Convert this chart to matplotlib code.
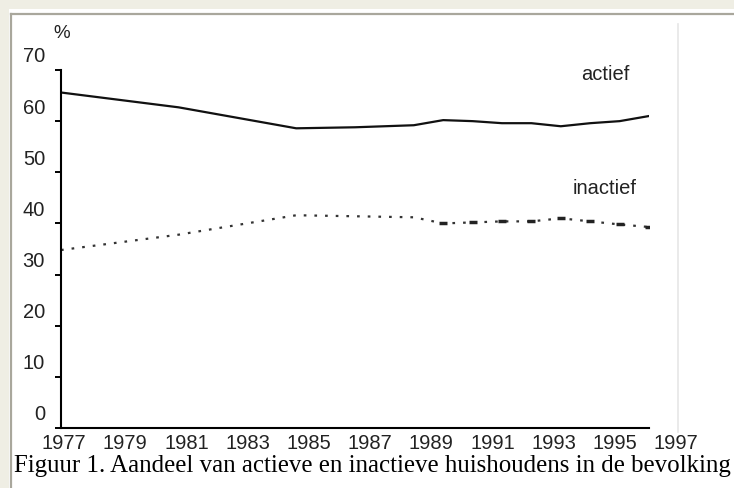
import matplotlib
matplotlib.use("Agg")
import matplotlib.pyplot as plt
from matplotlib.transforms import ScaledTranslation
from matplotlib.lines import Line2D
from matplotlib.patches import Rectangle

# data
years = [1977, 1981, 1985, 1987, 1989, 1990, 1991, 1992, 1993, 1994, 1995, 1996, 1997]
actief = [65.6, 62.7, 58.6, 58.8, 59.2, 60.2, 60.0, 59.6, 59.6, 59.0, 59.6, 60.0, 61.0]
inactief = [34.8, 37.8, 41.6, 41.4, 41.2, 40.0, 40.2, 40.4, 40.4, 41.0, 40.4, 39.8, 39.3]
marked_from = 5  # dash markers on the yearly points from 1990 on

xtick_years = list(range(1977, 1998, 2))
yticks = list(range(0, 80, 10))
caption = "Figuur 1. Aandeel van actieve en inactieve huishoudens in de bevolking"

W, H = 734, 488
fig = plt.figure(figsize=(W / 100, H / 100), dpi=100)
fig.patch.set_facecolor("white")

# window-like frame around the chart
fig.add_artist(Rectangle((0, 1 - 9 / H), 1, 9 / H, transform=fig.transFigure,
                         facecolor="#efeee4", edgecolor="none"))
fig.add_artist(Rectangle((0, 0), 9 / W, 1, transform=fig.transFigure,
                         facecolor="#efeee4", edgecolor="none"))
fig.add_artist(Line2D([11 / W, 1], [1 - 14 / H, 1 - 14 / H], transform=fig.transFigure,
                      color="#a9a79c", lw=1.6))
fig.add_artist(Line2D([11 / W, 11 / W], [0, 1 - 14 / H], transform=fig.transFigure,
                      color="#a9a79c", lw=1.6))
fig.add_artist(Line2D([678 / W, 678 / W], [1 - 24 / H, 1 - 432 / H], transform=fig.transFigure,
                      color="#e6e6e6", lw=1.2, zorder=0))

ax = fig.add_axes([61 / W, (H - 428) / H, 588 / W, 358 / H])
ax.set_facecolor("none")

ax.plot(years, actief, color="#111111", lw=1.6, solid_joinstyle="round")
ax.plot(years, inactief, color="#333333", lw=1.6, linestyle=(0, (1.2, 3.6)),
        marker="_", markersize=6, markeredgewidth=2.5, markeredgecolor="#222222",
        markevery=list(range(marked_from, len(years))))

ax.set_xlim(1977, 1997)
ax.set_ylim(0, 70)
for side in ("top", "right"):
    ax.spines[side].set_visible(False)
ax.spines["left"].set_linewidth(1.5)
ax.spines["bottom"].set_linewidth(1.5)

font = "Liberation Sans"
fs = 14.5
ax.set_yticks(yticks)
ax.set_yticklabels([str(v) for v in yticks], fontsize=fs, family=font, color="#222222")
ax.tick_params(axis="y", direction="out", length=4, width=1.4, pad=7.5)
for lab in ax.get_yticklabels():
    lab.set_transform(lab.get_transform() + ScaledTranslation(0, 0.15, fig.dpi_scale_trans))

ax.set_xticks(xtick_years)
ax.set_xticklabels([str(y) for y in xtick_years], fontsize=fs, family=font, color="#222222")
ax.tick_params(axis="x", length=0, pad=4)
for yr, lab in zip(xtick_years, ax.get_xticklabels()):
    dx = (3 + 1.2 * (yr - 1977)) / 100
    lab.set_transform(lab.get_transform() + ScaledTranslation(dx, 0, fig.dpi_scale_trans))

ax.text(1 / 588, 1.103, "%", transform=ax.transAxes, fontsize=13.5, family=font,
        color="#222222", ha="center", va="center")
ax.text(1995.5, 69.1, "actief", fontsize=fs, family=font, color="#222222",
        ha="center", va="center")
ax.text(1995.5, 46.9, "inactief", fontsize=fs, family=font, color="#222222",
        ha="center", va="center")

fig.text(14 / W, 1 - 466 / H, caption, fontsize=17.9, family="Liberation Serif",
         color="black", ha="left", va="center")

fig.savefig("out.png", dpi=100)
